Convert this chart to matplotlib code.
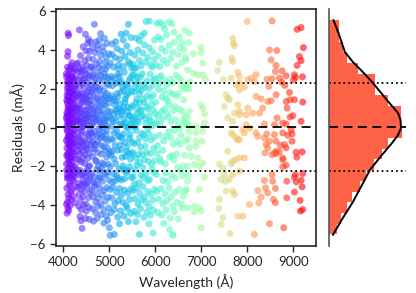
import numpy as np
import matplotlib.pyplot as plt

plt.rcParams['font.family'] = ['Lato', 'DejaVu Sans']

# (wavelength in A, residual in mA), one list per band
band_4100 = [
    (4070, 2.62), (4095, 1.85), (4120, 0.44), (4150, -0.93), (4180, -2.11), (4210, 1.27), (4240, -0.35), (4265, 2.21), (4285, -1.62), (4105, -2.57),
    (4082, 0.12), (4133, 1.96), (4161, -1.48), (4198, 0.83), (4227, -2.74), (4252, 0.58), (4078, -1.05), (4112, 2.48), (4145, -0.21), (4190, 1.52),
    (4066, -0.66), (4088, 2.05), (4126, -1.91), (4170, 0.27), (4205, -0.74), (4233, 1.72), (4270, -2.32), (4100, 0.95), (4140, -2.88), (4175, 2.66),
    (4091, -1.37), (4118, 0.69), (4156, 1.33), (4188, -1.74), (4222, 2.43), (4258, -0.12), (4282, 0.91), (4074, 1.41), (4108, -0.48), (4136, -2.36),
    (4164, 2.09), (4201, -1.19), (4245, 0.31), (4085, -2.61), (4128, 0.05), (4172, -0.57), (4215, 1.91), (4262, 1.04), (4068, 0.47), (4097, -0.81),
    (4122, 2.71), (4152, -1.62), (4183, 0.62), (4213, -2.05), (4248, 2.54), (4276, -0.91), (4080, 1.66), (4115, -1.27), (4143, 0.88), (4178, -2.49),
    (4208, 0.17), (4238, -1.43), (4268, 1.58), (4093, 0.33), (4131, -0.99), (4167, 1.17), (4196, 2.38), (4230, -0.55), (4072, -2.18), (4103, 1.12),
    (4147, 2.27), (4185, -0.27), (4218, 0.72), (4255, -1.98), (4086, -0.19), (4124, -1.71), (4158, 0.52), (4192, -2.67), (4226, 1.45), (4077, 0.78),
    (4110, 2.17), (4138, -0.63), (4176, 1.83), (4212, -1.08), (4242, -2.52), (4272, 0.38), (4099, -1.55), (4134, 1.39), (4165, -2.26), (4203, 0.99),
    (4083, 2.33), (4119, -0.38), (4154, -1.21), (4193, 0.14), (4236, 2.02), (4069, -1.86), (4107, 0.22), (4141, 1.77), (4181, -0.84), (4220, -2.41),
    (4071, 0.58), (4096, -0.52), (4127, 1.01), (4157, 0.36), (4186, 1.71), (4217, -0.16), (4249, -0.78), (4079, -0.07), (4106, 1.59), (4139, -1.36),
    (4169, -0.44), (4199, 1.84), (4228, 0.45), (4087, 1.29), (4114, -2.09), (4144, 0.21), (4177, -1.53), (4207, 2.61), (4246, 1.21), (4073, -1.43),
    (4094, 0.68), (4125, -0.86), (4153, 2.52), (4189, 0.92), (4224, -1.29), (4257, 2.13), (4084, -2.42), (4116, 1.49), (4149, -0.71), (4179, -1.95),
    (4075, -3.12), (4102, -3.45), (4130, -2.98), (4160, -3.31), (4090, -3.84), (4120, -3.62), (4146, -4.02), (4068, -3.95), (4098, -4.15), (4080, -4.41),
    (4115, -4.28), (4190, -3.22), (4230, -3.55), (4260, -3.05), (4250, -3.88), (4174, -3.71), (4089, 3.12), (4117, 2.95), (4148, 3.04), (4065, 2.78),
    (4101, 3.92), (4092, 3.68), (4112, 4.75), (4104, 4.87), (4170, 3.18), (4240, 3.05), (4210, 2.86), (4185, 3.35), (4262, 2.97), (4288, 3.28),
]

band_4450 = [
    (4310, 2.45), (4335, -0.62), (4362, 1.18), (4390, -1.77), (4420, 0.34), (4450, 2.02), (4480, -2.33), (4510, 0.89), (4540, -0.41), (4575, 1.63),
    (4318, -1.21), (4345, 0.77), (4372, 2.68), (4401, -0.18), (4432, -2.71), (4461, 1.35), (4492, -1.04), (4522, 2.31), (4553, -2.02), (4585, 0.13),
    (4325, 0.29), (4352, -2.45), (4380, 0.96), (4410, 1.74), (4441, -0.93), (4470, 0.46), (4500, 2.79), (4531, -1.58), (4562, 0.61), (4592, -0.88),
    (4305, -2.18), (4330, 1.52), (4357, -0.09), (4385, -2.97), (4415, 2.26), (4446, 0.08), (4475, -1.39), (4505, -0.32), (4536, 1.86), (4568, -2.64),
    (4313, 1.01), (4340, -1.66), (4367, 3.02), (4395, 0.51), (4425, -1.22), (4455, -2.88), (4486, 1.72), (4516, -2.19), (4547, 2.57), (4580, 0.92),
    (4321, -0.47), (4349, 2.14), (4376, -1.02), (4405, 1.31), (4436, 2.49), (4466, -0.66), (4496, 0.24), (4527, 1.09), (4558, -1.31), (4589, 2.18),
    (4308, 0.64), (4338, -2.86), (4365, 0.19), (4393, 2.37), (4422, -0.71), (4452, 1.61), (4483, -2.51), (4513, 1.44), (4544, 0.37), (4572, -1.96),
    (4328, 1.81), (4355, -1.34), (4383, -0.38), (4412, -2.43), (4443, 0.87), (4472, 2.95), (4502, -0.87), (4533, -2.78), (4564, 2.01), (4595, -0.29),
    (4311, 0.98), (4344, 0.41), (4378, -0.73), (4409, 0.02), (4438, 1.42), (4467, -1.85), (4499, 1.53), (4529, 0.55), (4559, -0.63), (4591, 1.38),
    (4326, -0.94), (4359, 1.62), (4391, 0.73), (4423, -1.54), (4457, 0.66), (4488, 0.42), (4518, -1.11), (4549, 1.27), (4578, -0.12), (4303, 0.37),
    (4337, 2.87), (4369, -2.21), (4403, 2.92), (4433, 0.21), (4463, 2.56), (4494, -2.92), (4524, 0.71), (4555, 2.71), (4584, -2.47), (4315, 1.73),
    (4316, -3.08), (4343, -3.41), (4370, -3.72), (4398, -3.18), (4428, -3.56), (4458, -3.27), (4489, -3.93), (4519, -3.03), (4550, -3.61), (4582, -3.35),
    (4333, -4.05), (4387, -4.22), (4440, -3.99), (4497, -4.31), (4556, -4.12), (4384, -4.80), (4479, -4.68), (4406, -5.19), (4566, -4.73), (4360, -4.58),
    (4348, 5.04), (4479, 4.82), (4530, 4.35), (4566, 3.93), (4493, 3.96), (4320, 3.34), (4374, 3.71), (4418, 3.12), (4462, 3.45), (4508, 3.22),
    (4547, 3.58), (4590, 3.11), (4430, 4.17), (4585, 4.42), (4545, 4.57),
]

band_4800 = [
    (4610, 1.21), (4640, -0.45), (4670, 2.33), (4700, -1.68), (4730, 0.57), (4760, 2.81), (4790, -2.24), (4820, 0.03), (4850, 1.49), (4880, -0.97),
    (4910, 2.62), (4940, -1.53), (4970, 0.84), (4995, -2.71), (4618, -2.36), (4648, 0.92), (4678, -0.18), (4708, 1.87), (4738, -2.92), (4768, 0.41),
    (4798, 1.13), (4828, -1.36), (4858, 2.44), (4888, 0.22), (4918, -0.59), (4948, 1.76), (4978, -1.88), (4625, 0.18), (4655, 2.71), (4685, -1.12),
    (4715, 0.36), (4745, -0.72), (4775, 1.94), (4805, -2.61), (4835, 0.66), (4865, -0.23), (4895, 1.38), (4925, -2.45), (4955, 0.09), (4985, 2.19),
    (4632, -1.47), (4662, 1.58), (4692, -2.54), (4722, 2.11), (4752, -1.29), (4782, -0.33), (4812, 2.72), (4842, -1.82), (4872, 0.77), (4902, -1.17),
    (4932, 0.48), (4962, -0.68), (4992, 1.27), (4604, 0.51), (4636, 1.95), (4668, -0.84), (4698, 0.68), (4728, -2.15), (4758, 1.42), (4788, 0.29),
    (4818, -0.91), (4848, -2.77), (4878, 1.91), (4908, 0.33), (4938, 2.25), (4968, -2.29), (4613, -0.29), (4643, -2.79), (4673, 1.02), (4703, 2.53),
    (4733, -0.42), (4763, -1.97), (4793, 0.87), (4823, 1.68), (4853, -0.48), (4883, -1.89), (4913, 1.12), (4943, -0.14), (4973, 2.57), (4621, 2.64),
    (4651, -1.08), (4681, 0.49), (4711, -0.87), (4741, 1.26), (4771, -2.58), (4801, 2.06), (4831, 0.15), (4861, 1.17), (4891, -2.38), (4921, 1.63),
    (4951, -1.02), (4981, 0.58), (4628, -0.73), (4658, 0.26), (4688, 2.12), (4718, -1.73), (4748, 0.93), (4778, 2.48), (4808, -0.52), (4838, -2.08),
    (4868, 0.42), (4898, 2.78), (4928, -0.36), (4958, 1.48), (4988, -1.34), (4607, 1.83), (4645, 0.71), (4683, -2.89), (4725, 1.53), (4766, -0.06),
    (4615, 3.15), (4650, 3.52), (4690, 3.87), (4720, 3.28), (4755, 4.02), (4785, 3.41), (4815, 3.73), (4845, 3.05), (4875, 3.92), (4905, 3.36),
    (4935, 3.63), (4965, 3.18), (4990, 3.81), (4674, 5.33), (4783, 4.52), (4892, 4.61), (4740, 4.25), (4700, 4.42), (4860, 4.18), (4950, 4.35),
    (4632, 4.12), (4810, 4.85), (4645, 3.01), (4770, 3.11), (4920, 3.02),
    (4612, -3.21), (4642, -3.55), (4672, -3.04), (4702, -3.83), (4732, -3.38), (4762, -3.66), (4792, -3.12), (4822, -3.97), (4852, -3.47), (4882, -3.25),
    (4912, -3.78), (4942, -3.09), (4972, -3.58), (4630, -4.18), (4700, -4.37), (4755, -4.05), (4820, -4.49), (4880, -4.26), (4940, -4.56), (4985, -4.13),
    (4657, -4.82), (4735, -4.67), (4880, -4.92), (4960, -4.78), (5017, -5.55),
]

band_5250 = [
    (5010, 0.83), (5040, -1.42), (5070, 2.16), (5100, -0.27), (5130, 1.38), (5160, -2.48), (5190, 0.59), (5220, 2.64), (5250, -1.13), (5280, 0.17),
    (5310, 1.92), (5340, -0.76), (5370, -2.31), (5400, 1.07), (5430, 2.43), (5460, -1.62), (5490, 0.38), (5018, -2.02), (5048, 1.64), (5078, -0.62),
    (5108, 2.55), (5138, -1.86), (5168, 0.95), (5198, -0.41), (5228, 1.23), (5258, -2.69), (5288, 2.08), (5318, 0.46), (5348, -1.48), (5378, 1.66),
    (5408, -0.04), (5438, -2.01), (5468, 1.02), (5498, 2.71), (5025, 2.47), (5055, 0.08), (5085, -2.38), (5115, 1.19), (5145, 0.33), (5175, -1.17),
    (5205, 2.34), (5235, -0.88), (5265, 0.72), (5295, -1.97), (5325, 2.86), (5355, 0.26), (5385, -0.98), (5415, 1.79), (5445, 0.61), (5475, -2.57),
    (5032, -0.58), (5062, -2.81), (5092, 1.47), (5122, -0.93), (5152, 2.29), (5182, 1.58), (5212, -2.14), (5242, 0.18), (5272, -0.52), (5302, 1.05),
    (5332, -2.63), (5362, 2.22), (5392, 0.81), (5422, -1.31), (5452, -0.35), (5482, 1.88), (5005, 1.52), (5037, 0.47), (5067, -1.21), (5097, 0.69),
    (5127, -2.73), (5157, -0.15), (5187, 2.75), (5217, 0.93), (5247, 1.84), (5277, -1.53), (5307, -0.31), (5337, 1.32), (5367, 0.04), (5397, -2.22),
    (5427, 0.63), (5457, 2.57), (5487, -0.73), (5014, -1.23), (5044, 2.65), (5074, 0.36), (5104, -1.61), (5134, 0.88), (5164, 1.76), (5194, -2.62),
    (5224, -0.47), (5254, 2.39), (5284, 0.86), (5314, -2.18), (5344, 1.49), (5374, -1.24), (5404, 2.12), (5434, -0.55), (5464, 0.16), (5494, -1.38),
    (5020, 3.33), (5055, 3.78), (5090, 3.12), (5125, 3.61), (5165, 4.08), (5195, 3.24), (5230, 3.55), (5270, 3.95), (5305, 3.16), (5340, 3.68),
    (5380, 4.21), (5415, 3.41), (5450, 3.88), (5485, 3.07), (5363, 4.87), (5254, 4.82), (5140, 4.44), (5300, 4.52), (5470, 4.65), (5060, 4.32),
    (5200, 3.02), (5440, 3.29),
    (5015, -3.18), (5050, -3.62), (5085, -3.07), (5120, -3.91), (5155, -3.33), (5190, -3.76), (5225, -3.14), (5260, -3.49), (5295, -3.85), (5330, -3.22),
    (5365, -4.02), (5400, -3.38), (5435, -3.71), (5470, -3.16), (5035, -4.38), (5110, -4.22), (5180, -4.61), (5245, -4.29), (5320, -4.55), (5390, -4.16),
    (5460, -4.42), (5109, -5.50), (4999, -5.16), (5220, -4.95), (5410, -4.84),
]

band_5750 = [
    (5510, 1.14), (5540, -0.82), (5570, 2.37), (5600, -1.91), (5630, 0.29), (5660, 1.72), (5690, -2.44), (5720, 0.64), (5750, -0.36), (5780, 2.08),
    (5810, -1.28), (5840, 0.97), (5870, -2.67), (5900, 1.56), (5930, 0.11), (5960, -1.06), (5990, 2.53), (5518, -2.53), (5548, 0.53), (5578, -0.14),
    (5608, 2.62), (5638, -1.37), (5668, 0.84), (5698, 1.93), (5728, -2.06), (5758, 1.31), (5788, -0.58), (5818, 2.41), (5848, -1.74), (5878, 0.37),
    (5908, -0.64), (5938, 2.18), (5968, -2.31), (5998, 0.74), (5525, 0.42), (5555, 2.11), (5585, -1.57), (5615, 0.98), (5645, -2.84), (5675, 2.59),
    (5705, -0.29), (5735, 1.47), (5765, -1.64), (5795, 0.21), (5825, 1.64), (5855, -0.31), (5885, 2.76), (5915, -1.86), (5945, 0.92), (5975, -0.48),
    (5532, 1.83), (5562, -2.17), (5592, 0.71), (5622, -0.77), (5652, 1.27), (5682, -1.02), (5712, 2.78), (5742, -2.58), (5772, 0.48), (5802, -2.38),
    (5832, -0.04), (5862, 1.99), (5892, -1.33), (5922, 1.21), (5952, 2.44), (5982, -1.71), (5505, -1.27), (5537, 2.72), (5567, 0.06), (5597, 1.48),
    (5627, 2.27), (5657, -0.49), (5687, 0.58), (5717, -1.39), (5747, 2.23), (5777, -0.95), (5807, 1.07), (5837, -2.74), (5867, 0.62), (5897, 0.31),
    (5927, -2.12), (5957, 1.68), (5987, 0.17), (5514, 0.07), (5544, -2.89), (5574, 1.29), (5604, 0.36), (5634, 1.98), (5664, -1.79), (5694, 0.92),
    (5515, 3.27), (5550, 3.74), (5585, 3.08), (5620, 4.01), (5655, 3.46), (5690, 3.19), (5725, 3.85), (5760, 4.27), (5795, 3.38), (5830, 3.63),
    (5865, 4.13), (5900, 3.22), (5935, 3.91), (5970, 3.51), (5413, 5.33), (5870, 5.50), (5797, 5.47), (5580, 4.62), (5700, 4.74), (5650, 4.48),
    (5980, 4.52), (5760, 4.88), (5540, 3.05), (5935, 3.12),
    (5520, -3.24), (5555, -3.67), (5590, -3.11), (5625, -3.95), (5660, -3.39), (5695, -3.72), (5730, -3.05), (5765, -3.58), (5800, -3.86), (5835, -3.29),
    (5870, -4.07), (5905, -3.43), (5940, -3.74), (5975, -3.18), (5545, -4.31), (5610, -4.47), (5680, -4.18), (5750, -4.62), (5820, -4.35), (5890, -4.51),
    (5960, -4.25), (5653, -5.50), (5950, -5.43), (5580, -4.85), (5860, -4.96),
]

band_6350 = [
    (6010, 1.31), (6045, -0.93), (6080, 2.27), (6115, -1.76), (6150, 0.46), (6185, 1.89), (6220, -2.33), (6255, 0.73), (6290, -0.21), (6325, 2.49),
    (6360, -1.44), (6395, 0.88), (6430, -2.59), (6465, 1.62), (6500, 0.12), (6535, -0.87), (6570, 2.14), (6605, -1.98), (6640, 0.58), (6020, -2.41),
    (6055, 0.62), (6090, -0.38), (6125, 2.68), (6160, -1.17), (6195, 0.97), (6230, 1.51), (6265, -2.77), (6300, 1.18), (6335, -0.52), (6370, 2.31),
    (6405, -1.66), (6440, 0.41), (6475, -0.71), (6510, 2.58), (6545, -2.21), (6580, 0.86), (6615, 1.43), (6650, -0.66), (6030, 0.27), (6065, 1.97),
    (6100, -1.61), (6135, 0.83), (6170, -2.72), (6205, 2.43), (6240, -0.43), (6275, 1.36), (6310, -1.51), (6345, 0.31), (6380, 1.73), (6415, -0.14),
    (6450, 2.71), (6485, -2.04), (6520, 0.95), (6555, -0.39), (6590, -2.48), (6625, 1.99), (6660, 0.16), (6038, -1.32), (6073, 2.56), (6108, 0.19),
    (6143, 1.58), (6178, -0.68), (6213, -1.87), (6248, 2.21), (6283, 0.54), (6318, 1.79), (6353, -2.46), (6388, -0.85), (6423, 1.09), (6458, -1.36),
    (6493, 1.77), (6528, -0.03), (6563, 2.45), (6598, 0.38), (6633, -1.42), (6668, 2.05),
    (6015, 3.22), (6055, 3.71), (6095, 3.15), (6135, 4.08), (6175, 3.48), (6215, 3.94), (6255, 3.31), (6295, 4.25), (6335, 3.56), (6375, 3.89),
    (6415, 4.41), (6455, 3.17), (6495, 3.77), (6535, 4.13), (6575, 3.36), (6615, 4.04), (6655, 3.62), (6030, 5.38), (6100, 5.43), (6160, 5.31),
    (6290, 5.45), (6357, 5.37), (6200, 5.09), (6400, 4.92), (6646, 5.02), (6520, 4.67), (6060, 4.68), (6580, 4.36), (6120, 4.55), (6240, 4.78),
    (6025, -3.28), (6070, -3.69), (6115, -3.14), (6160, -3.92), (6205, -3.41), (6250, -3.77), (6295, -3.11), (6340, -3.58), (6385, -4.05), (6430, -3.33),
    (6475, -3.84), (6520, -3.19), (6565, -3.95), (6610, -3.52), (6655, -3.26), (6050, -4.38), (6140, -4.51), (6230, -4.24), (6320, -4.66), (6410, -4.33),
    (6500, -4.71), (6590, -4.15), (6377, -5.50), (6305, -5.24), (6385, -5.55), (6180, -4.94),
]

band_6900 = [
    (6739, 4.87), (6725, 4.39), (6993, 4.13), (6826, 3.81), (6993, 3.87), (6667, 3.50), (7029, 3.33), (6703, 2.98), (6826, 2.81), (6921, 2.73),
    (7029, 2.73), (7087, 2.50), (6754, 2.38), (6667, 2.21), (6725, 1.99), (6993, 1.18), (7029, 1.01), (7066, 0.70), (6739, 0.84), (6703, 0.53),
    (6667, 0.24), (6725, 0.15), (6884, 0.07), (7066, 0.24), (7029, -0.19), (6739, -0.19), (6884, -0.27), (6703, -0.62), (6884, -0.70), (7015, -0.70),
    (6739, -1.04), (6884, -0.96), (6776, -1.47), (6921, -1.56), (7029, -1.82), (6848, -1.90), (6703, -1.99), (6957, -1.99), (7066, -2.54), (6703, -2.42),
    (6703, -2.76), (6667, -3.19), (6957, -3.19), (6703, -4.13), (6848, -4.04), (6957, -4.13), (6848, -4.34), (6993, -4.30), (6993, -5.16),
]

band_7700 = [
    (7993, 5.47), (7681, 4.61), (7696, 4.35), (7718, 4.23), (7660, 3.58), (7681, 3.41), (7392, 3.36), (7355, 2.95), (7479, 2.47), (7645, 2.55),
    (7790, 2.86), (7826, 2.64), (7826, 2.30), (7754, 2.21), (7826, 1.95), (7935, 2.09), (7537, 1.70), (7573, 1.53), (7609, 1.44), (7500, 1.10),
    (7790, 1.18), (7826, 0.84), (8007, 1.01), (7971, 0.67), (8116, 0.75), (7573, 0.50), (7718, 0.75), (7681, 0.33), (7826, 0.67), (7971, 0.15),
    (8044, -0.02), (7899, -0.10), (7645, -0.27), (7681, -0.36), (7754, -0.53), (7790, -0.62), (7826, -0.62), (7935, -0.27), (7573, -1.22), (7681, -1.73),
    (7739, -1.65), (7645, -1.87), (7826, -1.56), (7935, -1.56), (7392, -1.87), (7464, -2.07), (7500, -2.42), (7681, -2.42), (7609, -2.67), (7522, -2.76),
    (7428, -2.67), (7826, -2.24), (7537, -3.27), (7681, -3.27), (7718, -3.44), (7392, -3.70), (7377, -4.16), (7464, -4.64), (7428, -4.99), (7790, -4.56),
    (7899, -4.56), (7623, -5.45),
]

band_8450 = [
    (8536, 5.50), (8479, 4.01), (8638, 3.98), (8515, 3.50), (8623, 3.21), (8609, 2.90), (8754, 2.93), (8696, 2.55), (8747, 2.35), (8812, 2.18),
    (8536, 2.52), (8428, 2.50), (8464, 2.13), (8623, 1.70), (8442, 1.35), (8515, 1.39), (8334, 1.01), (8189, 1.61), (8297, 1.49), (8261, 0.75),
    (8645, 0.50), (8587, 0.15), (8370, 0.19), (8421, -0.32), (8587, -0.36), (8189, -0.27), (8370, -0.53), (8225, -0.45), (8406, -0.87), (8479, -0.70),
    (8442, -1.04), (8587, -1.30), (8536, -1.39), (8377, -1.30), (8623, -1.22), (8768, -1.56), (8768, -2.02), (8536, -2.42), (8370, -2.72), (8551, -2.76),
    (8392, -3.10), (8442, -3.36), (8609, -3.13), (8225, -3.24), (8297, -3.58), (8565, -3.70), (8609, -3.87), (8247, -3.87), (8044, -3.96), (8479, -4.95),
    (8152, -5.50), (8152, 2.38), (8007, 2.47), (8080, 2.55), (8189, 2.73),
]

band_9000 = [
    (9080, 5.07), (9167, 5.16), (9217, 4.13), (9131, 3.67), (9167, 3.46), (9080, 3.21), (9022, 2.73), (9044, 2.59), (9196, 2.62), (9000, 2.47),
    (8841, 2.67), (8913, 1.82), (9022, 1.44), (8928, 1.44), (8841, 1.35), (9203, 1.32), (8863, 1.01), (8986, 0.62), (8928, 0.55), (9167, 0.33),
    (8841, 0.19), (8768, 0.24), (8950, -0.10), (8971, -0.32), (8768, -0.27), (8877, -0.39), (8971, -0.70), (8623, -0.70), (8805, -0.87), (8718, -0.91),
    (8841, -1.04), (8696, -1.25), (8623, -1.34), (9058, -1.27), (9189, -1.25), (9073, -1.52), (8768, -1.65), (8841, -1.94), (9044, -2.42), (9203, -2.36),
    (9022, -2.55), (9167, -2.71), (9058, -2.79), (9189, -3.05), (8855, -2.76), (9022, -3.32), (8855, -3.62), (9145, -3.75), (9203, -4.22), (9152, -4.30),
    (8790, -5.16),
]

# side histogram: bin range and counts (bottom to top)
hist_range = (-5.50, 5.54)
hist_counts = [17, 25, 37, 47, 63, 74, 90, 106, 118, 147, 145, 145, 118, 93, 93, 59, 37, 28, 21, 21]

# fitted curve drawn over the histogram
curve_resid = [-5.52, -4.64, -3.82, -2.95, -2.17, -1.40, -0.79, -0.38, -0.02, 0.40, 0.76, 1.42, 2.30, 2.86, 3.38, 3.89, 4.87, 5.54]
curve_count = [9, 29, 49, 67, 83, 107, 127, 139, 145, 144, 139, 117, 89, 69, 49, 33, 20, 10]

mean_resid = 0.03
sigma_lines = [2.32, -2.24]

points = band_4100 + band_4450 + band_4800 + band_5250 + band_5750 + band_6350 + band_6900 + band_7700 + band_8450 + band_9000
wave = np.array([p[0] for p in points])
resid = np.array([p[1] for p in points])

fig = plt.figure(figsize=(4.16, 2.93), dpi=100)
ax = fig.add_axes([0.1346, 0.1604, 0.625, 0.8076])
axh = fig.add_axes([0.7897, 0.1604, 0.1863, 0.8076], sharey=ax)

ax.scatter(wave, resid, c=wave, cmap='rainbow', s=25, alpha=0.6, edgecolors='none')
for a in (ax, axh):
    a.axhline(mean_resid, color='k', ls='--', lw=1.3, dashes=(5, 3))
    for s in sigma_lines:
        a.axhline(s, color='k', ls=':', lw=1.3)

ax.set_xlim(3840, 9490)
ax.set_ylim(-6.1, 6.1)
ax.set_xticks([4000, 5000, 6000, 7000, 8000, 9000])
ax.set_yticks([-6, -4, -2, 0, 2, 4, 6])
ax.set_xlabel('Wavelength (Å)', fontsize=10, color='#262626')
ax.set_ylabel('Residuals (mÅ)', fontsize=10, color='#262626')
ax.tick_params(labelsize=9.5, length=4, width=1, colors='#262626', direction='out')
for sp in ax.spines.values():
    sp.set_color('#262626')
    sp.set_linewidth(1.2)

edges = np.linspace(hist_range[0], hist_range[1], len(hist_counts) + 1)
axh.barh(edges[:-1], hist_counts, height=np.diff(edges), align='edge', color='tomato', linewidth=0)
axh.plot(curve_count, curve_resid, color='k', lw=1.4)
axh.set_xlim(0, 155)
for name in ('top', 'right', 'bottom'):
    axh.spines[name].set_visible(False)
axh.spines['left'].set_color('#555555')
axh.spines['left'].set_linewidth(1.2)
axh.tick_params(left=False, bottom=False, labelleft=False, labelbottom=False)

fig.savefig('out.png', dpi=100)
